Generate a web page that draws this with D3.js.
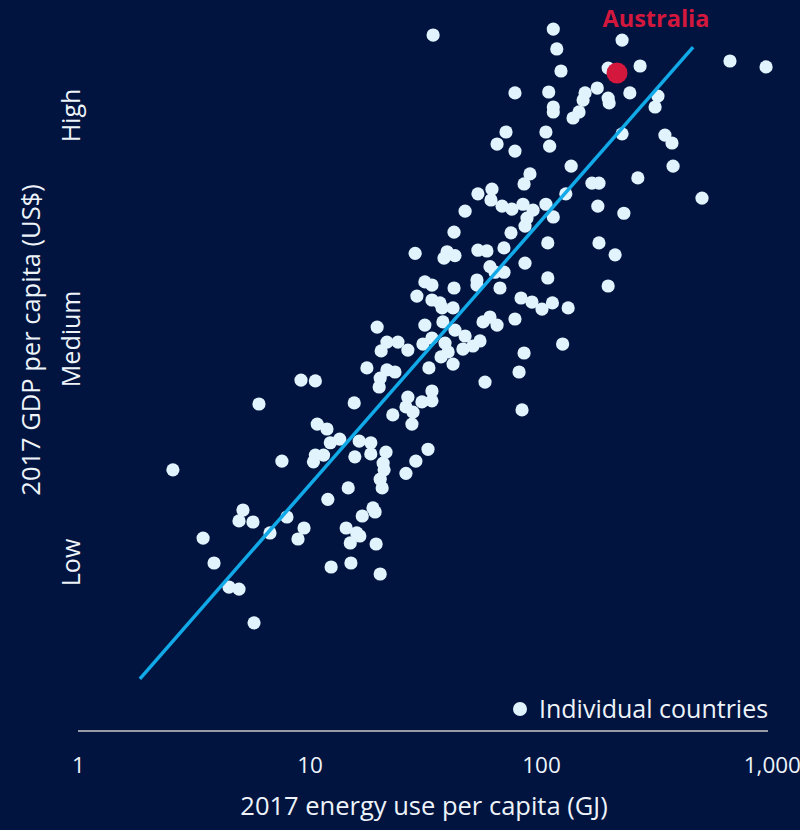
<!DOCTYPE html>
<html>
<head>
<meta charset="utf-8">
<script src="https://cdn.jsdelivr.net/npm/d3@7"></script>
<style>
  html, body { margin: 0; padding: 0; background: #00143f; }
  svg { display: block; }
  text { font-family: "Open Sans", "Noto Sans", sans-serif; fill: #eef3fa; }
</style>
</head>
<body>
<svg id="chart" width="800" height="830"></svg>
<script>
// Energy use per capita (GJ) and GDP per capita (US$), one entry per country
const energy = [
  34.2, 113, 117, 224, 122, 195, 268, 655, 938, 175,
  155, 152, 146, 137.5, 195, 197, 242, 320, 311, 77.2,
  108, 113, 113, 105, 109, 70.6, 64.6, 77.2, 224, 343,
  368, 135, 372, 262, 166, 178, 89.6, 84.5, 128, 496,
  176, 228, 53.4, 61.4, 60.8, 67.9, 74.9, 83.6, 92.4, 105,
  113, 47.0, 87.0, 85.3, 42.1, 74.2, 107, 178, 209, 28.6,
  39.3, 42.5, 38.1, 53.4, 58.4, 69.2, 85.3, 60.2, 63.3, 69.2,
  52.9, 52.9, 66.5, 107, 195, 31.5, 33.8, 42.1, 29.1, 33.8,
  36.6, 37.4, 41.7, 82.0, 91.4, 101, 112, 131, 77.2, 31.5,
  37.7, 42.5, 56.2, 60.2, 64.6, 19.6, 47.0, 54.5, 50.8, 46.0,
  21.6, 24.1, 26.6, 20.4, 30.9, 33.8, 38.5, 39.7, 37.0, 41.7,
  32.8, 124, 84.5, 80.4, 57.3, 21.6, 23.4, 20.2, 20.0, 17.7,
  26.6, 26.1, 28.0, 27.7, 30.6, 33.8, 33.8, 22.9, 82.8, 9.19,
  10.6, 6.05, 15.6, 10.8, 11.9, 13.5, 12.3, 16.4, 18.4, 21.4,
  18.4, 10.6, 11.5, 10.4, 15.7, 20.8, 21.0, 20.2, 20.6, 32.5,
  28.8, 26.1, 2.57, 7.60, 14.7, 12.0, 18.8, 19.2, 16.9, 14.4,
  16.0, 16.5, 15.0, 19.4, 12.4, 15.1, 20.2, 5.16, 4.96, 5.70,
  7.99, 6.75, 9.47, 8.92, 3.47, 3.87, 4.49, 4.96, 5.76
];
const gdp = [
  114000, 121000, 99100, 108400, 79400, 81800, 83500, 87800, 82700, 66900,
  63700, 59300, 52600, 49500, 60500, 57600, 63700, 61700, 55300, 63700,
  64300, 55300, 52600, 43000, 37300, 43000, 38100, 35500, 42200, 41700,
  38500, 30500, 30500, 27100, 25700, 25700, 28200, 25500, 23100, 22100,
  20400, 19000, 23100, 24200, 21700, 20400, 19800, 20800, 19600, 20800,
  18300, 19400, 18100, 16700, 15700, 15600, 14100, 14100, 12500, 12700,
  12900, 12400, 12100, 13100, 13000, 13400, 11500, 11100, 10500, 10500,
  9710, 9230, 8960, 9910, 9140, 9520, 9230, 8960, 8260, 7940,
  7710, 7330, 7330, 8100, 7780, 7250, 7710, 7330, 6560, 6170,
  6370, 5870, 6370, 6690, 6170, 6050, 5530, 5260, 5000, 4850,
  5200, 5200, 4800, 4760, 5100, 5420, 5150, 4710, 4480, 4170,
  4010, 5100, 4660, 3850, 3480, 3930, 3850, 3620, 3310, 4010,
  2990, 2710, 2570, 2280, 2850, 3180, 2880, 2500, 2630, 3550,
  3520, 2790, 2820, 2280, 2170, 1960, 1890, 1920, 1890, 1720,
  1690, 1670, 1670, 1560, 1640, 1540, 1440, 1310, 1200, 1770,
  1570, 1390, 1440, 1570, 1200, 1070, 981, 942, 905, 802,
  763, 740, 690, 683, 542, 564, 505, 961, 861, 852,
  896, 763, 802, 718, 725, 564, 443, 434, 309
];

// Highlighted country
const highlightName = "Australia";
const highlightEnergy = 213;
const highlightGdp = 77800;

// Fitted trend (log-log), given by its two end points
const trendEnergy = [1.85, 454];
const trendGdp = [176, 101000];

// Axis ticks
const xTicks = [1, 10, 100, 1000];
const xTickLabels = ["1", "10", "100", "1,000"];
const yTicks = [570, 5400, 51000];
const yTickLabels = ["Low", "Medium", "High"];

const svg = d3.select("#chart");

const x = d3.scaleLog().domain([1, 1000]).range([78, 772.5]);
const y = d3.scaleLog().domain([500, 50000]).range([575, 117]);

// Background
svg.append("rect").attr("width", 800).attr("height", 830).attr("fill", "#00143f");

// Country points
const pts = energy.map((e, i) => ({ e, g: gdp[i] }));
svg.append("g")
  .selectAll("circle")
  .data(pts)
  .join("circle")
  .attr("cx", d => x(d.e))
  .attr("cy", d => y(d.g))
  .attr("r", 6.6)
  .attr("fill", "#e1f3fd");

// Trend line
const line = d3.line().x(d => x(d[0])).y(d => y(d[1]));
svg.append("path")
  .datum(trendEnergy.map((e, i) => [e, trendGdp[i]]))
  .attr("d", line)
  .attr("fill", "none")
  .attr("stroke", "#12a9e8")
  .attr("stroke-width", 3.5);

// Highlighted country point and label
svg.append("circle")
  .attr("cx", x(highlightEnergy))
  .attr("cy", y(highlightGdp))
  .attr("r", 10.5)
  .attr("fill", "#d4173d");
svg.append("text")
  .attr("x", 656)
  .attr("y", 27)
  .attr("text-anchor", "middle")
  .style("fill", "#d4173d")
  .style("font-weight", "700")
  .style("font-size", "23.5px")
  .text(highlightName);

// X axis
const xAxis = d3.axisBottom(x)
  .tickValues(xTicks)
  .tickFormat((d, i) => xTickLabels[i])
  .tickSize(0)
  .tickPadding(0);
const gx = svg.append("g").attr("transform", "translate(0,731)").call(xAxis);
gx.select(".domain").remove();
gx.append("line")
  .attr("x1", 78).attr("x2", 768)
  .attr("stroke", "#c8c8c8").attr("stroke-width", 1.5);
gx.selectAll(".tick text")
  .attr("y", 42)
  .attr("dy", 0)
  .attr("text-anchor", d => d === 1000 ? "end" : "middle")
  .attr("x", d => d === 1000 ? 28 : 0)
  .style("font-size", "22.5px")
  .style("fill", "#eef3fa")
  .style("font-family", "'Open Sans', 'Noto Sans', sans-serif");

// Y axis: qualitative levels, rotated
const yAxis = d3.axisLeft(y)
  .tickValues(yTicks)
  .tickFormat((d, i) => yTickLabels[i])
  .tickSize(0)
  .tickPadding(0);
const gy = svg.append("g").attr("transform", "translate(80,0)").call(yAxis);
gy.select(".domain").remove();
gy.selectAll(".tick text")
  .attr("x", 0)
  .attr("dy", 0)
  .attr("transform", "rotate(-90)")
  .attr("text-anchor", "middle")
  .style("font-size", "25px")
  .style("fill", "#eef3fa")
  .style("font-family", "'Open Sans', 'Noto Sans', sans-serif");

// Axis titles
svg.append("text")
  .attr("x", 424)
  .attr("y", 815)
  .attr("text-anchor", "middle")
  .style("font-size", "25.5px")
  .text("2017 energy use per capita (GJ)");
svg.append("text")
  .attr("transform", "translate(40,340) rotate(-90)")
  .attr("text-anchor", "middle")
  .style("font-size", "25.5px")
  .text("2017 GDP per capita (US$)");

// Legend
svg.append("circle").attr("cx", 520).attr("cy", 709).attr("r", 7).attr("fill", "#e1f3fd");
svg.append("text")
  .attr("x", 539)
  .attr("y", 718)
  .style("font-size", "25px")
  .text("Individual countries");
</script>
</body>
</html>
